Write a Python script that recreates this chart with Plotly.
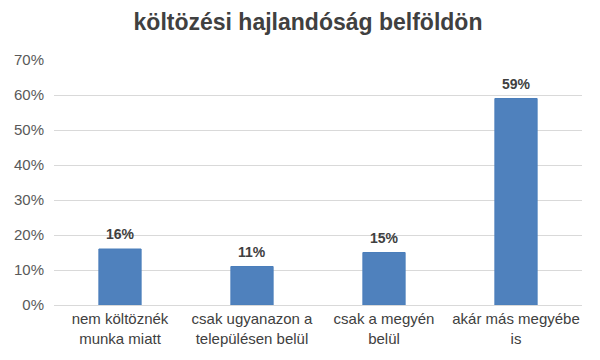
import plotly.graph_objects as go

categories = ["nem költöznék<br>munka miatt", "csak ugyanazon a<br>településen belül", "csak a megyén<br>belül", "akár más megyébe<br>is"]
values = [16, 11, 15, 59]
labels = ["16%", "11%", "15%", "59%"]
tick_vals = [0, 10, 20, 30, 40, 50, 60, 70]
tick_text = ["0%", "10%", "20%", "30%", "40%", "50%", "60%", "70%"]

FONT = "Liberation Sans, Arial"
fig = go.Figure(go.Bar(
    x=categories, y=values,
    marker=dict(color="#4F81BD", line=dict(color="#4A7EBB", width=1)),
    width=0.32, hoverinfo="skip",
))
for c, v, t in zip(categories, values, labels):
    fig.add_annotation(x=c, y=v, text="<b>" + t + "</b>", showarrow=False, yanchor="bottom", yshift=5,
                       font=dict(family=FONT, size=14, color="#404040"))
fig.update_layout(
    width=600, height=360,
    margin=dict(l=46, r=26, t=52, b=63),
    paper_bgcolor="white", plot_bgcolor="white",
    title=dict(text="<b>költözési hajlandóság belföldön</b>", x=0.5, xanchor="center", y=0.961, yanchor="middle",
               font=dict(family=FONT, size=23, color="#404040")),
    font=dict(family=FONT, size=15, color="#595959"),
    showlegend=False,
    xaxis=dict(showline=True, linecolor="#D9D9D9", tickfont=dict(family=FONT, size=15, color="#404040"),
               ticks="", automargin=False),
    yaxis=dict(range=[0, 70], tickvals=tick_vals, ticktext=tick_text, gridcolor="#D9D9D9",
               zeroline=False, tickfont=dict(family=FONT, size=15, color="#595959"),
               ticks="outside", ticklen=6, tickcolor="rgba(0,0,0,0)", automargin=False),
)
fig.write_html("out.html")
